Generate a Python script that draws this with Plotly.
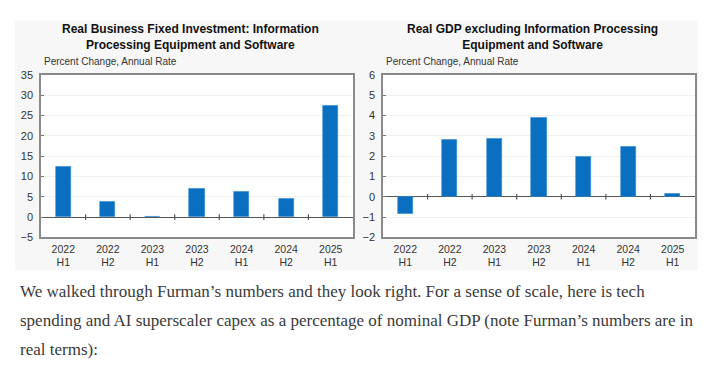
import plotly.graph_objects as go

categories = ["2022<br>H1", "2022<br>H2", "2023<br>H1", "2023<br>H2", "2024<br>H1", "2024<br>H2", "2025<br>H1"]
invest_values = [12.4, 3.9, 0.1, 6.9, 6.3, 4.5, 27.5]
gdp_values = [-0.85, 2.78, 2.87, 3.89, 1.95, 2.46, 0.13]
left_ticks = [-5, 0, 5, 10, 15, 20, 25, 30, 35]
right_ticks = [-2, -1, 0, 1, 2, 3, 4, 5, 6]

left_title = "Real Business Fixed Investment: Information<br>Processing Equipment and Software"
right_title = "Real GDP excluding Information Processing<br>Equipment and Software"
subtitle = "Percent Change, Annual Rate"
body_lines = [
    "We walked through Furman\u2019s numbers and they look right. For a sense of scale, here is tech",
    "spending and AI superscaler capex as a percentage of nominal GDP (note Furman\u2019s numbers are in",
    "real terms):",
]

W, H = 721, 381
def px(x):
    return x / W
def py(y):
    return (H - y) / H

xs = list(range(len(categories)))
bounds = [i + 0.5 for i in xs[:-1]]

BAR = "#0a6fc0"
SANS = "Arial, Liberation Sans, sans-serif"

fig = go.Figure()
fig.add_trace(go.Bar(x=xs, y=invest_values, marker=dict(color=BAR, line=dict(width=0.6, color="#2f8ad2")),
                     width=0.34, xaxis="x", yaxis="y", showlegend=False))
fig.add_trace(go.Bar(x=xs, y=gdp_values, marker=dict(color=BAR, line=dict(width=0.6, color="#2f8ad2")),
                     width=0.34, xaxis="x2", yaxis="y2", showlegend=False))
for xa, ya in (("x", "y"), ("x2", "y2")):
    fig.add_trace(go.Scatter(x=bounds, y=[0] * len(bounds), mode="markers", xaxis=xa, yaxis=ya,
                             marker=dict(symbol="line-ns-open", size=4, color="#555",
                                         line=dict(width=1.2, color="#555")),
                             showlegend=False, hoverinfo="skip"))

ydom = [py(239), py(71)]
axis_common = dict(showline=True, mirror=True, linecolor="#8a8a8a", linewidth=1.5)
xcommon = dict(tickvals=xs, ticktext=categories, range=[-0.5, len(xs) - 0.5], showgrid=False,
               ticks="", ticklabelstandoff=1, tickfont=dict(family=SANS, size=10.5, color="#333"),
               zeroline=False, **axis_common)
ycommon = dict(ticks="inside", ticklen=3, tickcolor="#777", showgrid=True, gridcolor="#f1f1f1",
               zeroline=True, zerolinecolor="#555", zerolinewidth=1.2, ticklabelstandoff=4,
               tickfont=dict(family=SANS, size=11, color="#333"), **axis_common)

fig.update_layout(
    width=W, height=H,
    margin=dict(l=0, r=0, t=0, b=0),
    paper_bgcolor="white",
    plot_bgcolor="white",
    bargap=0,
    xaxis=dict(domain=[px(41), px(353)], anchor="y", **xcommon),
    yaxis=dict(domain=ydom, anchor="x", range=[-5, 35], tickvals=left_ticks, **ycommon),
    xaxis2=dict(domain=[px(383), px(695)], anchor="y2", **xcommon),
    yaxis2=dict(domain=ydom, anchor="x2", range=[-2, 6], tickvals=right_ticks, **ycommon),
    shapes=[
        dict(type="rect", xref="paper", yref="paper", x0=px(15), x1=px(698), y0=py(273), y1=py(15),
             fillcolor="#f7f7f7", line=dict(width=0), layer="below"),
        dict(type="rect", xref="x domain", yref="y domain", x0=0, x1=1, y0=0, y1=1,
             fillcolor="white", line=dict(width=0), layer="below"),
        dict(type="rect", xref="x2 domain", yref="y2 domain", x0=0, x1=1, y0=0, y1=1,
             fillcolor="white", line=dict(width=0), layer="below"),
    ],
)

ann = []
ann.append(dict(text="<b>" + left_title + "</b>", x=px(190), y=py(31.5), xref="paper", yref="paper",
                xanchor="center", yanchor="middle", showarrow=False,
                font=dict(family=SANS, size=12, color="#111")))
ann.append(dict(text="<b>" + right_title + "</b>", x=px(532), y=py(31.5), xref="paper", yref="paper",
                xanchor="center", yanchor="middle", showarrow=False,
                font=dict(family=SANS, size=12, color="#111")))
for x0 in (42, 384):
    ann.append(dict(text=subtitle, x=px(x0), y=py(57.5), xref="paper", yref="paper",
                    xanchor="left", yanchor="middle", showarrow=False,
                    font=dict(family=SANS, size=10, color="#333")))
for i, (line, yc) in enumerate(zip(body_lines, [294.5, 325, 354.5])):
    ann.append(dict(text=line, x=px(18), y=py(yc), xref="paper", yref="paper",
                    xanchor="left", yanchor="middle", showarrow=False,
                    font=dict(family="Liberation Serif, serif", size=17, color="#3a3a3a")))
fig.update_layout(annotations=ann)

fig.write_html("out.html", config={"displayModeBar": False},
               post_script="document.body.style.margin='0';document.body.style.overflow='hidden';")
